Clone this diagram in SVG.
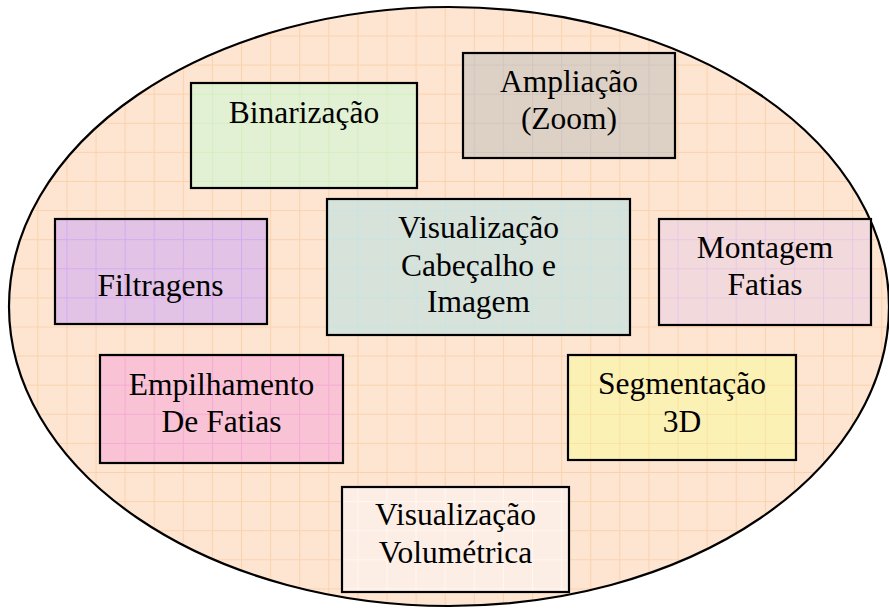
<svg xmlns="http://www.w3.org/2000/svg" width="889" height="609" viewBox="0 0 889 609">
<style>
.box{stroke:#000;stroke-width:2.2}
.lbl{font-size:31.5px;fill:#000;text-anchor:middle}
.ell{stroke:#000;stroke-width:2.2}
.gl{fill:none;stroke-width:1}
</style>
<defs>
<pattern id="pBg" patternUnits="userSpaceOnUse" x="8.2" y="6.4" width="29.1" height="29.1"><rect width="29.1" height="29.1" fill="#FDE5D1"/><path class="gl" stroke="#FCD2AC" d="M0 0.5H29.1M0.5 0V29.1"/></pattern>
<pattern id="pGreen" patternUnits="userSpaceOnUse" x="8.2" y="6.4" width="29.1" height="29.1"><rect width="29.1" height="29.1" fill="#E2F1D3"/><path class="gl" stroke="#D5EEC2" d="M0 0.5H29.1M0.5 0V29.1"/></pattern>
<pattern id="pTan" patternUnits="userSpaceOnUse" x="8.2" y="6.4" width="29.1" height="29.1"><rect width="29.1" height="29.1" fill="#DDD0C5"/><path class="gl" stroke="#D2C6BD" d="M0 0.5H29.1M0.5 0V29.1"/></pattern>
<pattern id="pTeal" patternUnits="userSpaceOnUse" x="8.2" y="6.4" width="29.1" height="29.1"><rect width="29.1" height="29.1" fill="#D7E2DA"/><path class="gl" stroke="#C8E4E4" d="M0 0.5H29.1M0.5 0V29.1"/></pattern>
<pattern id="pLav" patternUnits="userSpaceOnUse" x="8.2" y="6.4" width="29.1" height="29.1"><rect width="29.1" height="29.1" fill="#E2C3E6"/><path class="gl" stroke="#D6AAF0" d="M0 0.5H29.1M0.5 0V29.1"/></pattern>
<pattern id="pRose" patternUnits="userSpaceOnUse" x="8.2" y="6.4" width="29.1" height="29.1"><rect width="29.1" height="29.1" fill="#F1D9DC"/><path class="gl" stroke="#E9C8E6" d="M0 0.5H29.1M0.5 0V29.1"/></pattern>
<pattern id="pPink" patternUnits="userSpaceOnUse" x="8.2" y="6.4" width="29.1" height="29.1"><rect width="29.1" height="29.1" fill="#F9C3D5"/><path class="gl" stroke="#F6A9D2" d="M0 0.5H29.1M0.5 0V29.1"/></pattern>
<pattern id="pYel" patternUnits="userSpaceOnUse" x="8.2" y="6.4" width="29.1" height="29.1"><rect width="29.1" height="29.1" fill="#FCF1B4"/><path class="gl" stroke="#F9E2A2" d="M0 0.5H29.1M0.5 0V29.1"/></pattern>
<pattern id="pWhite" patternUnits="userSpaceOnUse" x="8.2" y="6.4" width="29.1" height="29.1"><rect width="29.1" height="29.1" fill="#FDEEE5"/><path class="gl" stroke="#FFF7F2" d="M0 0.5H29.1M0.5 0V29.1"/></pattern>
</defs>
<rect width="889" height="609" fill="#FFFFFF"/>
<g id="container">
<ellipse class="ell" cx="449" cy="306.5" rx="440" ry="299.5" fill="url(#pBg)"/>
</g>
<g id="connectors"></g>
<g font-family="Liberation Serif, serif">
<g id="binarizacao">
<rect class="box" x="191" y="83" width="226" height="105" fill="url(#pGreen)"/>
<text class="lbl" x="304" y="123">Binarização</text>
</g>
<g id="ampliacao">
<rect class="box" x="463" y="53" width="212" height="105" fill="url(#pTan)"/>
<text class="lbl" x="569" y="92">Ampliação</text>
<text class="lbl" x="569" y="129">(Zoom)</text>
</g>
<g id="visualizacao-cabecalho">
<rect class="box" x="327" y="199" width="303" height="136" fill="url(#pTeal)"/>
<text class="lbl" x="478.5" y="238">Visualização</text>
<text class="lbl" x="478.5" y="276">Cabeçalho e</text>
<text class="lbl" x="478.5" y="312">Imagem</text>
</g>
<g id="filtragens">
<rect class="box" x="55" y="219" width="212" height="105" fill="url(#pLav)"/>
<text class="lbl" x="160.5" y="296">Filtragens</text>
</g>
<g id="montagem">
<rect class="box" x="659" y="219" width="212" height="106" fill="url(#pRose)"/>
<text class="lbl" x="765" y="258">Montagem</text>
<text class="lbl" x="765" y="295">Fatias</text>
</g>
<g id="empilhamento">
<rect class="box" x="100" y="355" width="243" height="108" fill="url(#pPink)"/>
<text class="lbl" x="221.5" y="395">Empilhamento</text>
<text class="lbl" x="221.5" y="432">De Fatias</text>
</g>
<g id="segmentacao">
<rect class="box" x="568" y="355" width="228" height="105" fill="url(#pYel)"/>
<text class="lbl" x="682" y="394">Segmentação</text>
<text class="lbl" x="682" y="432">3D</text>
</g>
<g id="visualizacao-volumetrica">
<rect class="box" x="342" y="487" width="227" height="105" fill="url(#pWhite)"/>
<text class="lbl" x="455.5" y="525">Visualização</text>
<text class="lbl" x="455.5" y="563">Volumétrica</text>
</g>
</g>
</svg>
